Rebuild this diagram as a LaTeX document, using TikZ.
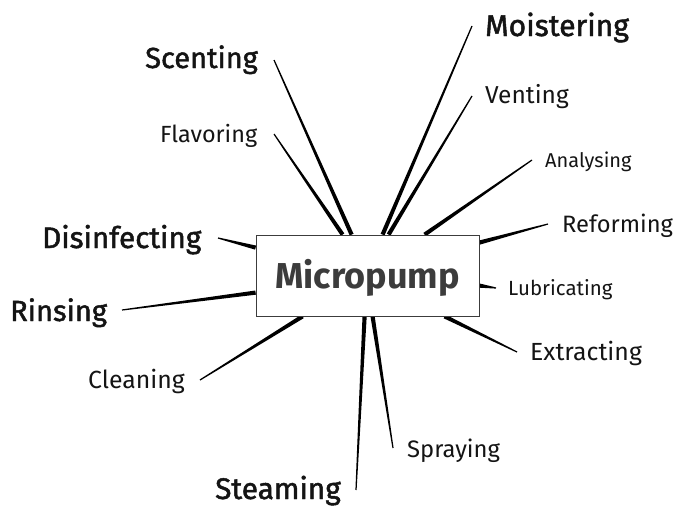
\documentclass[tikz,border=0pt]{standalone}
\usepackage{fontspec}
\setmainfont{Fira Sans}
\newfontfamily\heavyfont{Fira Sans}[FakeBold=1.6]
\usetikzlibrary{calc,backgrounds}
\definecolor{inkgray}{HTML}{3C3C3C}
\definecolor{ink}{HTML}{141414}
\tikzset{
  lbl/.style={anchor=base west,inner sep=0pt,text=ink,font=\fontsize{#1}{#1}\selectfont},
  biglbl/.style={lbl=#1,font=\fontsize{#1}{#1}\selectfont\heavyfont},
  spoke/.style={fill=black}
}
% tapered spoke from the box (#1) out to a label (#2)
\newcommand\spoke[2]{\fill[spoke] ($(#1)!2.1pt!90:(#2)$) -- ($(#1)!2.1pt!-90:(#2)$) -- ($(#2)!.6pt!90:(#1)$) -- ($(#2)!.6pt!-90:(#1)$) -- cycle;}
\begin{document}
\begin{tikzpicture}[x=1pt,y=-1pt]
\useasboundingbox (0,0) rectangle (677,506);
% Centre box
\node[draw=inkgray,line width=.8pt,fill=white,minimum width=223pt,minimum height=81pt,inner sep=0pt,
  text=inkgray,font=\fontsize{36}{36}\selectfont\bfseries,text height=25pt,text depth=0pt] (box) at (367.5,275.5) {Micropump};
% Labels
\node[biglbl=30.1] (moistering) at (485,36) {Moistering};
\node[lbl=24.5] (venting) at (485,103) {Venting};
\node[lbl=20] (analysing) at (545,167) {Analysing};
\node[lbl=23.7] (reforming) at (562,232) {Reforming};
\node[lbl=20.5] (lubricating) at (508,295) {Lubricating};
\node[lbl=24.8] (extracting) at (530,360) {Extracting};
\node[lbl=23.8] (spraying) at (407,457) {Spraying};
\node[biglbl=29.8] (steaming) at (215,499) {Steaming};
\node[lbl=24.8] (cleaning) at (88,388) {Cleaning};
\node[biglbl=29.1] (rinsing) at (10,321) {Rinsing};
\node[biglbl=29.7] (disinfecting) at (42,248) {Disinfecting};
\node[lbl=23.4] (flavoring) at (160,142) {Flavoring};
\node[biglbl=29] (scenting) at (145,68) {Scenting};
% Spoke roots on the box
\coordinate (scenting-root) at ([xshift=96pt]box.north west);
\coordinate (flavoring-root) at ([xshift=87pt]box.north west);
\coordinate (moistering-root) at ([xshift=127pt]box.north west);
\coordinate (venting-root) at ([xshift=133pt]box.north west);
\coordinate (analysing-root) at ([xshift=169pt]box.north west);
\coordinate (reforming-root) at ([yshift=-8pt]box.north east);
\coordinate (lubricating-root) at ([yshift=-51pt]box.north east);
\coordinate (extracting-root) at ([xshift=189pt]box.south west);
\coordinate (spraying-root) at ([xshift=117pt]box.south west);
\coordinate (steaming-root) at ([xshift=109pt]box.south west);
\coordinate (cleaning-root) at ([xshift=47pt]box.south west);
\coordinate (rinsing-root) at ([yshift=-58pt]box.north west);
\coordinate (disinfecting-root) at ([yshift=-13pt]box.north west);
% Spoke tips next to the labels
\coordinate (scenting-tip) at (274,60);
\coordinate (flavoring-tip) at (274,134);
\coordinate (moistering-tip) at (472,26);
\coordinate (venting-tip) at (472,96);
\coordinate (analysing-tip) at (532,160);
\coordinate (reforming-tip) at (548,224);
\coordinate (lubricating-tip) at (496,288);
\coordinate (extracting-tip) at (517,352);
\coordinate (spraying-tip) at (393,448);
\coordinate (steaming-tip) at (356,490);
\coordinate (cleaning-tip) at (200,380);
\coordinate (rinsing-tip) at (122,310);
\coordinate (disinfecting-tip) at (218,238);
% Spokes
\begin{scope}[on background layer]
\foreach \n in {scenting,flavoring,moistering,venting,analysing,reforming,lubricating,
  extracting,spraying,steaming,cleaning,rinsing,disinfecting}
  {\spoke{\n-root}{\n-tip}}
\end{scope}
\end{tikzpicture}
\end{document}
